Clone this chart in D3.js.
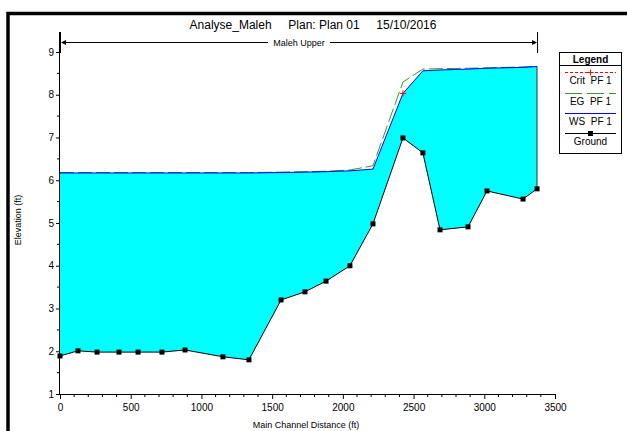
<!DOCTYPE html>
<html>
<head>
<meta charset="utf-8">
<script src="https://cdn.jsdelivr.net/npm/d3@7"></script>
<style>
  body { margin: 0; background: #fff; }
  svg { display: block; font-family: Arial, "Liberation Sans", sans-serif; }
  .tick text { font-size: 10px; fill: #000; }
</style>
</head>
<body>
<div id="chart"></div>
<script>
// profile data
const stations = [0, 127, 262, 417, 552, 721, 884, 1152, 1336, 1563, 1732, 1881, 2050, 2213, 2425, 2566, 2687, 2885, 3019, 3274, 3373];
const ground = [1.89, 2.01, 1.98, 1.98, 1.98, 1.98, 2.03, 1.87, 1.80, 3.20, 3.39, 3.64, 4.00, 4.98, 6.99, 6.64, 4.84, 4.91, 5.75, 5.56, 5.80];
const wsPF1 = [6.17, 6.17, 6.17, 6.17, 6.17, 6.17, 6.17, 6.17, 6.17, 6.18, 6.19, 6.20, 6.22, 6.26, 8.03, 8.56, 8.58, 8.60, 8.62, 8.64, 8.66];
const egPF1 = [6.18, 6.18, 6.18, 6.18, 6.18, 6.18, 6.18, 6.18, 6.18, 6.19, 6.20, 6.21, 6.24, 6.34, 8.30, 8.60, 8.61, 8.62, 8.63, 8.65, 8.67];
const critStation = [2425];
const critPF1 = [8.03];
const xTicks = [0, 500, 1000, 1500, 2000, 2500, 3000, 3500];
const yTicks = [1, 2, 3, 4, 5, 6, 7, 8, 9];
const legendItems = ['Crit  PF 1', 'EG  PF 1', 'WS  PF 1', 'Ground'];

const width = 627, height = 431;
const svg = d3.select('#chart').append('svg').attr('width', width).attr('height', height);

// outer frame (cropped on right and bottom)
svg.append('path').attr('d', 'M8,440 V13.5 H640').attr('fill', 'none').attr('stroke', '#000').attr('stroke-width', 3.5);

const x = d3.scaleLinear().domain([0, 3500]).range([60, 555]);
const y = d3.scaleLinear().domain([1, 9]).range([394, 52]);
const yTop = 32;

const pts = stations.map((s, i) => ({ s, g: ground[i], ws: wsPF1[i], eg: egPF1[i] }));

// water fill
const area = d3.area().x(d => x(d.s)).y0(d => y(d.g)).y1(d => y(d.ws));
svg.append('path').datum(pts).attr('d', area).attr('fill', '#00ffff');

// right edge of water
const last = pts[pts.length - 1];
svg.append('line').attr('x1', x(last.s)).attr('x2', x(last.s))
  .attr('y1', y(last.ws)).attr('y2', y(last.g)).attr('stroke', '#333').attr('stroke-width', 1);

// axes
const xAxis = d3.axisBottom(x).tickValues(xTicks).tickSize(5).tickFormat(d3.format('d'));
const gx = svg.append('g').attr('transform', 'translate(0,394)').call(xAxis);
gx.select('.domain').attr('d', 'M60,0.5H555').attr('stroke', '#000');
gx.selectAll('.tick line').attr('stroke', '#000');
gx.selectAll('.tick text').attr('dy', '0.9em');
gx.selectAll('.minor').data(d3.range(100, 3500, 100).filter(v => v % 500)).enter().append('line')
  .attr('x1', d => x(d)).attr('x2', d => x(d)).attr('y1', 0).attr('y2', 3).attr('stroke', '#000');

const yAxis = d3.axisLeft(y).tickValues(yTicks).tickSize(4);
const gy = svg.append('g').attr('transform', 'translate(60,0)').call(yAxis);
gy.select('.domain').attr('d', `M-0.5,${yTop}V394`).attr('stroke', '#000');
gy.selectAll('.tick line').attr('stroke', '#000');
gy.selectAll('.tick text').attr('x', -6);
gy.selectAll('.minor').data(d3.range(1.5, 9.5, 1)).enter().append('line')
  .attr('x1', 0).attr('x2', -3).attr('y1', d => y(d)).attr('y2', d => y(d)).attr('stroke', '#000');

// lines
const line = key => d3.line().x(d => x(d.s)).y(d => y(d[key]));
svg.append('path').datum(pts).attr('d', line('eg')).attr('fill', 'none')
  .attr('stroke', '#2e9a2e').attr('stroke-width', 1).attr('stroke-dasharray', '14,4');
svg.append('path').datum(pts).attr('d', line('ws')).attr('fill', 'none')
  .attr('stroke', '#0000ff').attr('stroke-width', 1);
svg.append('path').datum(pts).attr('d', line('g')).attr('fill', 'none')
  .attr('stroke', '#000').attr('stroke-width', 1);
svg.selectAll('.gpt').data(pts).enter().append('rect')
  .attr('x', d => x(d.s) - 2.5).attr('y', d => y(d.g) - 2.5).attr('width', 5).attr('height', 5).attr('fill', '#000');

// critical depth marker
critStation.forEach((s, i) => {
  const cx = x(s), cy = y(critPF1[i]);
  svg.append('path').attr('d', `M${cx - 3},${cy}H${cx + 3}M${cx},${cy - 3}V${cy + 3}`).attr('stroke', '#ff0000').attr('stroke-width', 1);
});

// reach label
const rx0 = x(stations[0]), rx1 = x(stations[stations.length - 1]);
svg.append('line').attr('x1', rx0 + 0.5).attr('x2', rx0 + 0.5).attr('y1', yTop).attr('y2', 53).attr('stroke', '#000');
svg.append('line').attr('x1', rx1 + 0.5).attr('x2', rx1 + 0.5).attr('y1', yTop).attr('y2', 53).attr('stroke', '#000');
svg.append('line').attr('x1', rx0 + 3).attr('x2', 268).attr('y1', 42.5).attr('y2', 42.5).attr('stroke', '#000');
svg.append('line').attr('x1', 330).attr('x2', rx1 - 3).attr('y1', 42.5).attr('y2', 42.5).attr('stroke', '#000');
svg.append('path').attr('d', `M${rx0 + 1},42.5 l5,-2.5 v5 z`).attr('fill', '#000');
svg.append('path').attr('d', `M${rx1},42.5 l-5,-2.5 v5 z`).attr('fill', '#000');
svg.append('text').attr('x', 299).attr('y', 46).attr('text-anchor', 'middle').attr('font-size', 9).text('Maleh Upper');

// title
svg.append('text').attr('x', 313).attr('y', 29).attr('text-anchor', 'middle').attr('font-size', 12)
  .attr('xml:space', 'preserve').text('Analyse_Maleh     Plan: Plan 01     15/10/2016');

// axis titles
svg.append('text').attr('x', 306).attr('y', 428).attr('text-anchor', 'middle').attr('font-size', 9).text('Main Channel Distance (ft)');
svg.append('text').attr('transform', 'translate(21,220) rotate(-90)').attr('text-anchor', 'middle').attr('font-size', 9).text('Elevation (ft)');

// legend
const lg = svg.append('g');
lg.append('rect').attr('x', 559.5).attr('y', 52.5).attr('width', 62).attr('height', 101).attr('fill', '#fff').attr('stroke', '#000');
lg.append('line').attr('x1', 559.5).attr('x2', 621.5).attr('y1', 65.5).attr('y2', 65.5).attr('stroke', '#000');
lg.append('text').attr('x', 590.5).attr('y', 63).attr('text-anchor', 'middle').attr('font-size', 10).attr('font-weight', 'bold').text('Legend');
const ly = [72.5, 93.5, 113.5, 133.5];
const lstyle = [
  { c: '#ff0000', dash: '3,2' },
  { c: '#2e9a2e', dash: '17,5' },
  { c: '#0000ff', dash: null },
  { c: '#000', dash: null }
];
legendItems.forEach((t, i) => {
  lg.append('line').attr('x1', 565).attr('x2', 616).attr('y1', ly[i]).attr('y2', ly[i])
    .attr('stroke', lstyle[i].c).attr('stroke-dasharray', lstyle[i].dash);
  lg.append('text').attr('x', 590.5).attr('y', ly[i] + 11.5).attr('text-anchor', 'middle').attr('font-size', 10)
    .attr('xml:space', 'preserve').text(t);
});
lg.append('path').attr('d', `M587.5,${ly[0]}h6M590.5,${ly[0] - 3}v6`).attr('stroke', '#ff0000');
lg.append('rect').attr('x', 588).attr('y', ly[3] - 2.5).attr('width', 5).attr('height', 5).attr('fill', '#000');
</script>
</body>
</html>
